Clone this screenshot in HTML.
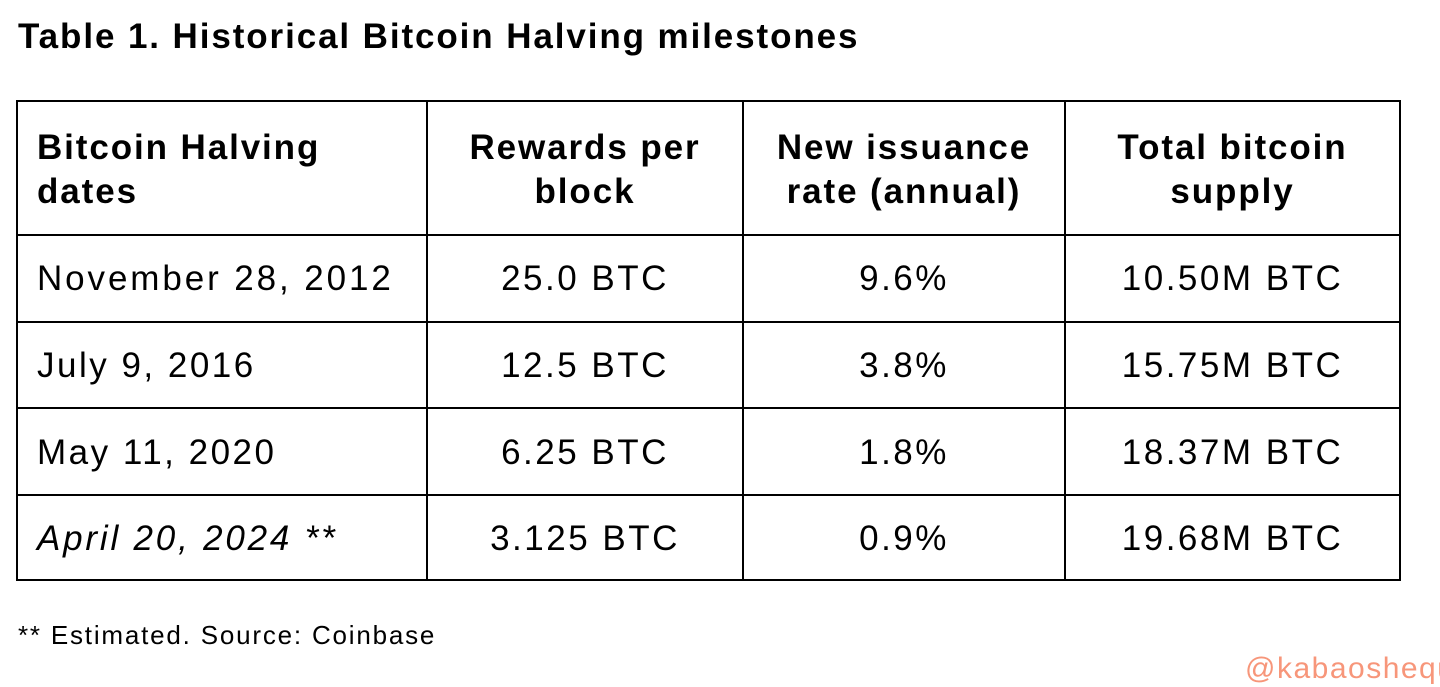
<!DOCTYPE html>
<html><head><meta charset="utf-8"><style>
body{margin:0;width:1440px;height:686px;background:#fff;position:relative;overflow:hidden;font-family:"Liberation Sans",Arial,sans-serif;color:#000}
.h{position:absolute;background:#000}
.t{position:absolute;font-size:35px;line-height:44px;white-space:nowrap;letter-spacing:2.5px}
.b{font-weight:bold;letter-spacing:1.9px}
.c{text-align:center}
</style></head><body>
<div class="t b" style="left:18px;top:15px;font-size:35px">Table 1. Historical Bitcoin Halving milestones</div>
<div class="h" style="left:16px;top:100px;width:1385px;height:2px"></div>
<div class="h" style="left:16px;top:234px;width:1385px;height:2px"></div>
<div class="h" style="left:16px;top:321px;width:1385px;height:2px"></div>
<div class="h" style="left:16px;top:407px;width:1385px;height:2px"></div>
<div class="h" style="left:16px;top:494px;width:1385px;height:2px"></div>
<div class="h" style="left:16px;top:579px;width:1385px;height:2px"></div>
<div class="h" style="left:16px;top:100px;width:2px;height:481px"></div>
<div class="h" style="left:426px;top:100px;width:2px;height:481px"></div>
<div class="h" style="left:742px;top:100px;width:2px;height:481px"></div>
<div class="h" style="left:1064px;top:100px;width:2px;height:481px"></div>
<div class="h" style="left:1399px;top:100px;width:2px;height:481px"></div>
<div class="t b" style="left:37px;top:126px">Bitcoin Halving<br>dates</div>
<div class="t b c" style="left:428px;width:314px;top:126px">Rewards per<br>block</div>
<div class="t b c" style="left:744px;width:320px;top:126px">New issuance<br>rate (annual)</div>
<div class="t b c" style="left:1066px;width:333px;top:126px">Total bitcoin<br>supply</div>

<div class="t" style="left:37px;top:257px;letter-spacing:2.9px">November 28, 2012</div>
<div class="t c" style="left:428px;width:314px;top:257px">25.0 BTC</div>
<div class="t c" style="left:744px;width:320px;top:257px">9.6%</div>
<div class="t c" style="left:1066px;width:333px;top:257px">10.50M BTC</div>

<div class="t" style="left:37px;top:344px">July 9, 2016</div>
<div class="t c" style="left:428px;width:314px;top:344px">12.5 BTC</div>
<div class="t c" style="left:744px;width:320px;top:344px">3.8%</div>
<div class="t c" style="left:1066px;width:333px;top:344px">15.75M BTC</div>

<div class="t" style="left:37px;top:431px">May 11, 2020</div>
<div class="t c" style="left:428px;width:314px;top:431px">6.25 BTC</div>
<div class="t c" style="left:744px;width:320px;top:431px">1.8%</div>
<div class="t c" style="left:1066px;width:333px;top:431px">18.37M BTC</div>

<div class="t" style="left:37px;top:517px;font-style:italic;letter-spacing:2.8px">April 20, 2024 **</div>
<div class="t c" style="left:428px;width:314px;top:517px">3.125 BTC</div>
<div class="t c" style="left:744px;width:320px;top:517px">0.9%</div>
<div class="t c" style="left:1066px;width:333px;top:517px">19.68M BTC</div>

<div class="t" style="left:18px;top:620px;font-size:26px;line-height:30px;letter-spacing:1.8px">** Estimated. Source: Coinbase</div>
<div class="t" style="left:1245px;top:651px;font-size:30px;line-height:36px;color:#f7967a;letter-spacing:1.5px">@kabaoshequ</div>
</body></html>
